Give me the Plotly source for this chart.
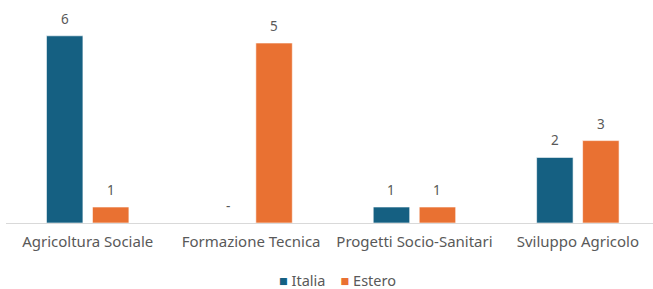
import plotly.graph_objects as go

categories = ["Agricoltura Sociale", "Formazione Tecnica", "Progetti Socio-Sanitari", "Sviluppo Agricolo"]
# bar heights (relative units)
italia_values = [11.7, 0.0, 1.0, 4.1]
estero_values = [1.0, 11.25, 1.0, 5.15]
# data labels shown above the bars
italia_labels = ["6", "-", "1", "2"]
estero_labels = ["1", "5", "1", "3"]
series_names = ["Italia", "Estero"]

BLUE = "#156082"
ORANGE = "#E97132"
TXT = "#595959"
FONT = "Noto Sans"

fig = go.Figure()
fig.add_trace(go.Bar(name=series_names[0], x=categories, y=italia_values, marker_color=BLUE,
                     marker_line=dict(color="white", width=0.6), showlegend=False))
fig.add_trace(go.Bar(name=series_names[1], x=categories, y=estero_values, marker_color=ORANGE,
                     marker_line=dict(color="white", width=0.6), showlegend=False))

annotations = []
for cat, v, lab in zip(categories, italia_values, italia_labels):
    annotations.append(dict(x=cat, y=v, text=lab, showarrow=False, xshift=-23, yshift=17,
                            font=dict(family=FONT, size=13.5, color=TXT)))
for cat, v, lab in zip(categories, estero_values, estero_labels):
    annotations.append(dict(x=cat, y=v, text=lab, showarrow=False, xshift=23, yshift=17,
                            font=dict(family=FONT, size=13.5, color=TXT)))

# legend drawn as text entries
legend_text = (f'<span style="color:{BLUE}">■</span> {series_names[0]}'
               f'&nbsp;&nbsp;&nbsp;&nbsp;<span style="color:{ORANGE}">■</span> {series_names[1]}')
annotations.append(dict(xref="paper", yref="paper", x=0.512, y=-0.285, xanchor="center",
                        yanchor="middle", text=legend_text, showarrow=False,
                        font=dict(family=FONT, size=14.5, color=TXT)))

fig.update_layout(
    width=653, height=289,
    margin=dict(l=6, r=0, t=23, b=66, autoexpand=False),
    paper_bgcolor="white", plot_bgcolor="white",
    barmode="group", bargap=0.437, bargroupgap=0.207,
    font=dict(family=FONT, size=13, color=TXT),
    annotations=annotations,
    showlegend=False,
    xaxis=dict(range=[-0.5, 3.46], showline=True, linecolor="#D9D9D9", linewidth=1,
               ticks="", showgrid=False, ticklabelstandoff=5, automargin=False,
               tickfont=dict(family=FONT, size=15, color=TXT)),
    yaxis=dict(range=[0, 12.5], visible=False, showgrid=False, zeroline=False),
)

fig.write_html("out.html", config={"displayModeBar": False},
               post_script="document.body.style.margin='0';")
